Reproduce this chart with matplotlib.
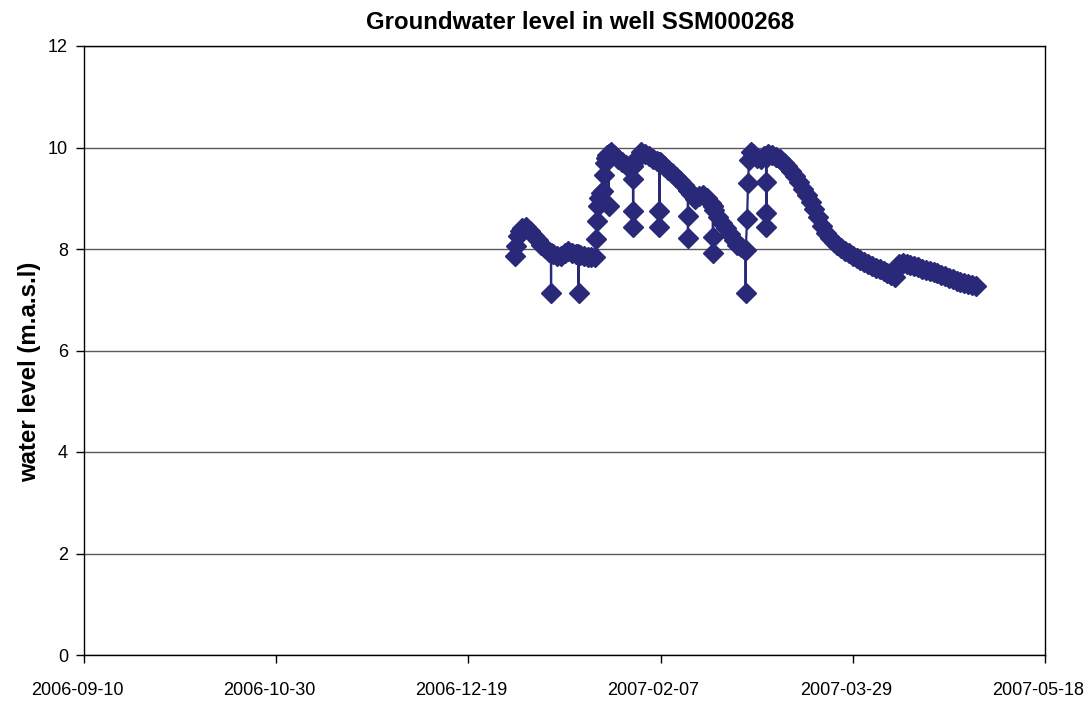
import numpy as np
import pandas as pd
import matplotlib
matplotlib.use("Agg")
from matplotlib import pyplot as plt
import matplotlib.dates as mdates
import matplotlib.transforms as mtransforms

plt.rcParams['font.family'] = ['Liberation Sans', 'DejaVu Sans']

# daily readings, one per day from 2006-12-31
first_day = "2006-12-31"
daily_level = [
    7.86,
    8.25, 8.42, 8.44, 8.36, 8.26, 8.17, 8.08, 8.01, 7.95, 7.90,
    7.86, 7.86, 7.92, 7.96, 7.93, 7.90, 7.89, 7.87, 7.85, 7.84,
    7.85, 9.00, 9.15, 9.85, 9.92, 9.85, 9.78, 9.72, 9.66, 9.62, 9.72,
    9.82, 9.91, 9.88, 9.84, 9.78, 9.74, 9.69, 9.63, 9.56, 9.49,
    9.42, 9.34, 9.26, 9.17, 9.08, 8.99, 9.04, 9.07, 9.01, 8.91,
    8.77, 8.64, 8.52, 8.41, 8.29, 8.17, 8.08, 8.03,
    7.99, 9.75, 9.88, 9.80, 9.78, 9.83, 9.87, 9.86, 9.82, 9.77,
    9.69, 9.63, 9.54, 9.43, 9.32, 9.19, 9.06, 8.93, 8.78, 8.63,
    8.46, 8.32, 8.21, 8.13, 8.07, 8.02, 7.97, 7.92, 7.87, 7.83, 7.78,
    7.74, 7.70, 7.66, 7.63, 7.60, 7.56, 7.53, 7.49, 7.44, 7.70,
    7.72, 7.71, 7.69, 7.66, 7.64, 7.61, 7.59, 7.57, 7.55, 7.52,
    7.49, 7.46, 7.43, 7.40, 7.37, 7.35, 7.33, 7.31, 7.29, 7.27,
]

# extra logger readings between the daily ones (fast rises and short drops)
extra_time = [
    "2006-12-31 12:00", "2007-01-01 12:00",
    "2007-01-09 11:00", "2007-01-09 12:00", "2007-01-09 13:00",
    "2007-01-16 15:00", "2007-01-16 16:00", "2007-01-16 17:00",
    "2007-01-21 06:00", "2007-01-21 12:00", "2007-01-21 18:00",
    "2007-01-22 12:00", "2007-01-23 06:00", "2007-01-23 12:00",
    "2007-01-23 18:00",
    "2007-01-24 11:00", "2007-01-24 12:00", "2007-01-24 13:00",
    "2007-01-30 18:00", "2007-01-30 19:00", "2007-01-30 20:00",
    "2007-01-30 21:00", "2007-01-30 22:00",
    "2007-02-06 15:00", "2007-02-06 16:00", "2007-02-06 17:00",
    "2007-02-06 18:00",
    "2007-02-14 01:00", "2007-02-14 02:00", "2007-02-14 03:00",
    "2007-02-14 04:00",
    "2007-02-20 13:00", "2007-02-20 14:00", "2007-02-20 15:00",
    "2007-02-20 16:00",
    "2007-03-01 02:00", "2007-03-01 03:00", "2007-03-01 04:00",
    "2007-03-01 12:00", "2007-03-01 18:00", "2007-03-02 12:00",
    "2007-03-06 10:00", "2007-03-06 11:00", "2007-03-06 12:00",
    "2007-03-06 13:00", "2007-03-06 14:00",
    "2007-04-09 12:00",
]
extra_level = [
    8.05, 8.36,
    7.93, 7.13, 7.92,
    7.90, 7.13, 7.89,
    8.20, 8.55, 8.85,
    9.10, 9.45, 9.70,
    9.80,
    9.88, 8.85, 9.88,
    9.64, 9.38, 8.75,
    8.43, 9.64,
    9.72, 8.75, 8.43,
    9.72,
    9.17, 8.65, 8.22,
    9.16,
    8.85, 8.24, 7.92,
    8.84,
    7.99, 7.13, 7.99,
    8.60, 9.30, 9.92,
    9.81, 9.32, 8.71,
    8.43, 9.82,
    7.60,
]

x_start = "2006-09-10"
x_end = "2007-05-18"
y_ticks = [0, 2, 4, 6, 8, 10, 12]

daily = pd.Series(daily_level,
                  index=pd.date_range(first_day, periods=len(daily_level), freq="D"))
extra = pd.Series(extra_level, index=pd.to_datetime(extra_time))
series = pd.concat([daily, extra]).sort_index()

fig = plt.figure(figsize=(10.91, 7.01), dpi=100)
ax = fig.add_axes([84 / 1091, 1 - 655 / 701, 961 / 1091, 609 / 701])

navy = "#2a2878"
ax.plot(series.index, series.values, color=navy, lw=1.6,
        marker="D", markersize=10.5, markerfacecolor=navy,
        markeredgecolor=navy, markeredgewidth=1.0, zorder=3)

ax.set_ylim(0, 12)
ax.set_yticks(y_ticks)
ax.set_xlim(pd.Timestamp(x_start), pd.Timestamp(x_end))
ax.set_xticks(pd.date_range(x_start, x_end, freq="50D"))
ax.xaxis.set_major_formatter(mdates.DateFormatter("%Y-%m-%d"))

ax.grid(axis="y", color="#5a5a5a", lw=1.0, zorder=1)
ax.set_axisbelow(True)
for side in ["left", "bottom", "right", "top"]:
    ax.spines[side].set_color("black")
    ax.spines[side].set_linewidth(1.0)

ax.tick_params(axis="both", direction="out", length=5.5, width=1.0,
               labelsize=13, colors="black")
ax.tick_params(axis="y", pad=6)
ax.tick_params(axis="x", pad=14)

# date labels sit a little left of their ticks
shift = mtransforms.ScaledTranslation(-7 / 100, 0, fig.dpi_scale_trans)
for lbl in ax.get_xticklabels():
    lbl.set_transform(lbl.get_transform() + shift)

ax.set_title("Groundwater level in well SSM000268", fontsize=17.3,
             fontweight="bold", x=0.516, pad=12)
ax.set_ylabel("water level (m.a.s.l)", fontsize=17.3, fontweight="bold",
              y=0.465, labelpad=5)

plt.savefig("out.png", dpi=100)
